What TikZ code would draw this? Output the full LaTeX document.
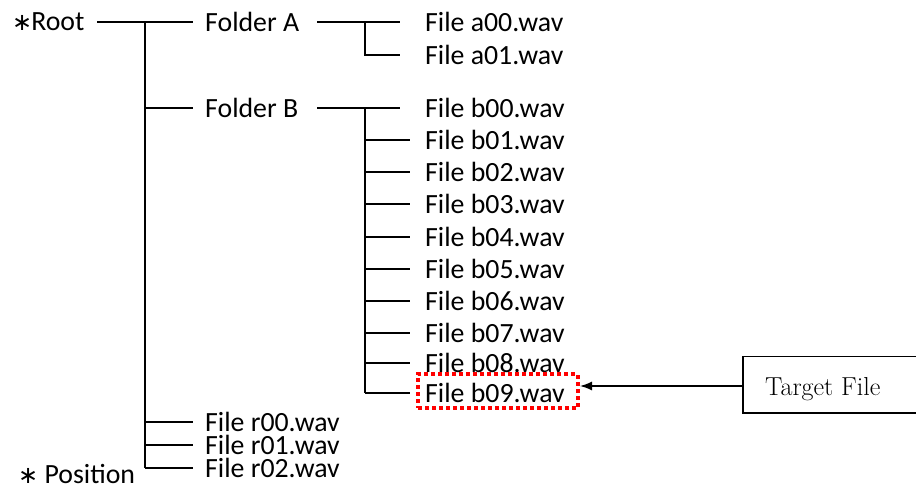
\documentclass[tikz,border=0pt]{standalone}
\usepackage{fontspec}
\setmainfont{Carlito}
\newfontfamily\lmfont{Latin Modern Roman}
\newfontfamily\djfont{DejaVu Sans}
\usetikzlibrary{arrows.meta}
\newcommand{\astk}{{\djfont\fontsize{24}{26}\selectfont ∗}}
\begin{document}
\begin{tikzpicture}[x=1pt,y=-1pt,
  lbl/.style={anchor=west,inner sep=0pt,font=\fontsize{27.8}{30}\selectfont},
  ln/.style={line width=1.5pt,black}]
\useasboundingbox (0,0) rectangle (916,486);
% labels
\node[lbl] (root) at (12,22) {\astk\kern-1pt Root};
\node[lbl] (fa) at (205,22) {Folder A};
\node[lbl] (fb) at (205,108) {Folder B};
\node[lbl] (a00) at (425,22) {File a00.wav};
\node[lbl] (a01) at (425,55) {File a01.wav};
\foreach \i/\y in {0/108,1/140,2/172,3/204,4/237,5/269,6/301,7/333,8/363,9/393}{
  \node[lbl] (b\i) at (425,\y) {File b0\i.wav};
}
\node[lbl] (r0) at (205,422) {File r00.wav};
\node[lbl] (r1) at (205,445) {File r01.wav};
\node[lbl] (r2) at (205,468) {File r02.wav};
\node[lbl] (pos) at (18,474) {\astk\ Position};
% root tree
\coordinate (rs) at (97,22);
\coordinate (rj) at (145,22);
\coordinate (rend) at (145,468);
\draw[ln] (rs) -- (193,22);
\draw[ln] (rj) -- (rend);
\foreach \n/\y in {fb/108,r0/422,r1/445,r2/468}{
  \draw[ln] (145,\y) -- ([xshift=-12pt]\n.west |- 0,\y);
}
% folder A
\draw[ln] (317,22) -- (400,22);
\draw[ln] (365,22) -- (365,55) -- (400,55);
% folder B
\draw[ln] (317,108) -- (400,108);
\draw[ln] (365,108) -- (365,393);
\foreach \y in {140,172,204,237,269,301,333,363,393}{
  \draw[ln] (365,\y) -- (410,\y);
}
% target box
\node[draw=red,dash pattern=on 4pt off 3pt,line width=4pt,inner sep=0pt,minimum width=160pt,minimum height=33pt,anchor=west] (tb) at (416,391) {};
\node[draw,line width=1.5pt,anchor=north west,minimum width=190pt,minimum height=56pt,inner sep=0pt] (tgt) at (742,356) {};
\node[anchor=west,inner sep=0pt,font=\lmfont\fontsize{26}{28}\selectfont] (tgtl) at (765,389) {Target File};
\draw[ln,-{Latex[length=12pt,width=9pt]}] (tgt.west |- 0,386) -- (tb.east |- 0,386);
\end{tikzpicture}
\end{document}
